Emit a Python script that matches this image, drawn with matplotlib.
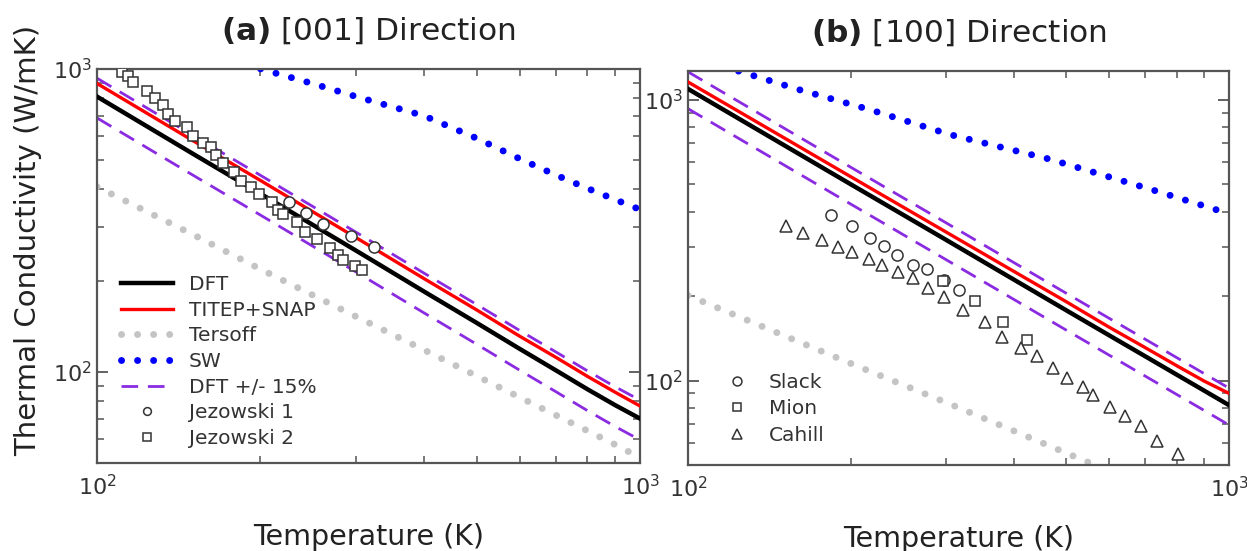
import numpy as np
import matplotlib
matplotlib.use('Agg')
import matplotlib.pyplot as plt
from matplotlib.ticker import LogLocator, NullFormatter

plt.rcParams['font.family'] = ['DejaVu Sans']
plt.rcParams['mathtext.fontset'] = 'dejavusans'

# ---- panel (a) [001] ----
T_a = [100, 150, 200, 300, 400, 500, 600, 700, 800, 900, 1000]
dft_a = [810, 525, 387, 251, 184, 145, 119, 101, 87.5, 77.5, 70]
titep_a = [895, 580, 428, 277, 203, 160, 131, 111.5, 96.5, 85.5, 77]
tersoff_a = [408, 284, 218, 152, 118, 96.8, 82.3, 71.8, 63.8, 57.4, 52]
T_sw_a = [200, 250, 300, 400, 500, 600, 700, 800, 900, 1000]
sw_a = [1000, 893, 810, 700, 590, 505, 446, 403, 370, 343]

jez1_T = [225.7, 242.6, 261.1, 293.7, 324.2]
jez1_k = [363, 334, 307, 280, 258]
jez2_T = [111.3, 113.9, 116.3, 123.5, 127.9, 132.5, 135.3, 139.2, 146.3, 150.4,
          156.5, 162.0, 165.7, 170.4, 179.0, 183.9, 192.1, 198.8, 209.8, 215.8,
          220.4, 233.2, 241.6, 253.9, 268.6, 278.2, 284.2, 298.6, 307.3]
jez2_k = [980, 948, 904, 846, 800, 760, 708, 673, 643, 601,
          569, 550, 520, 489, 458, 427, 407, 386, 363, 343,
          332, 311, 290, 274, 257, 243, 233, 224, 217]

# ---- panel (b) [100] ----
T_b = [100, 150, 200, 300, 400, 500, 600, 700, 800, 900, 1000]
dft_b = [1094, 692, 500, 317, 229, 178, 145, 122, 105, 92, 81.7]
titep_b = [1158, 735, 532, 338, 245, 191, 155, 131, 113, 99.5, 90]
T_ters_b = [100, 150, 200, 300, 400, 500, 600]
tersoff_b = [201, 145, 115, 83.5, 66.2, 55.2, 47.6]
T_sw_b = [124, 161, 217, 305, 467, 714, 1000]
sw_b = [1266, 1085, 922, 752, 614, 481, 393]

slack_T = [183.8, 200.6, 216.9, 230.6, 243.8, 260.2, 276.2, 297.7, 317.3]
slack_k = [390, 354, 322, 301, 281, 258, 249, 228, 210]
mion_T = [296.0, 339.3, 382.7, 423.8]
mion_k = [226, 192, 161, 139]
cahill_T = [151.8, 163.3, 176.6, 189.1, 201.2, 216.1, 228.7, 244.8, 260.2, 278.1,
            297.7, 322.8, 354.0, 380.2, 412.6, 442.3, 472.2, 502.4, 536.6, 559.8,
            602.6, 642.5, 687.6, 737.1, 803.9]
cahill_k = [355, 336, 316, 298, 286, 272, 258, 244, 231, 214,
            199, 179, 162, 143, 131, 122, 110.5, 102, 95, 88.8,
            80.8, 74.5, 68.6, 60.7, 54.9]

purple = '#8a2be2'
gray_dot = '#c4c4c4'
frame = '#555555'
dotstyle = (0, (0.01, 2.3))


def style_axes(ax, ylim):
    ax.set_xscale('log')
    ax.set_yscale('log')
    ax.set_xlim(100, 1000)
    ax.set_ylim(*ylim)
    ax.xaxis.set_major_locator(LogLocator(base=10, numticks=5))
    ax.xaxis.set_minor_locator(LogLocator(base=10, subs=np.arange(2, 10), numticks=10))
    ax.yaxis.set_minor_locator(LogLocator(base=10, subs=np.arange(2, 10), numticks=10))
    ax.xaxis.set_minor_formatter(NullFormatter())
    ax.yaxis.set_minor_formatter(NullFormatter())
    ax.tick_params(which='both', direction='in', top=True, right=True, colors=frame,
                   labelcolor='#333333', labelsize=16)
    ax.tick_params(which='major', length=8, width=1.3)
    ax.tick_params(which='minor', length=5, width=1.1)
    ax.tick_params(axis='x', pad=8)
    for s in ax.spines.values():
        s.set_color(frame)
        s.set_linewidth(1.6)


fig = plt.figure(figsize=(12.47, 5.51), dpi=100)
ax1 = fig.add_axes([0.0778, 0.160, 0.4355, 0.715])
ax2 = fig.add_axes([0.5517, 0.156, 0.4339, 0.715])

# (a)
ax1.plot(T_a, dft_a, color='black', lw=3.2, label='DFT', zorder=4)
ax1.plot(T_a, titep_a, color='red', lw=2.4, label='TITEP+SNAP', zorder=4)
ax1.plot(T_a, tersoff_a, color=gray_dot, lw=5, ls=dotstyle, dash_capstyle='round', label='Tersoff')
ax1.plot(T_sw_a, sw_a, color='#0000ff', lw=5, ls=dotstyle, dash_capstyle='round', label='SW')
ax1.plot(T_a, np.array(dft_a) * 1.15, color=purple, lw=2, ls=(0, (6, 3.5)), label='DFT +/- 15%')
ax1.plot(T_a, np.array(dft_a) * 0.85, color=purple, lw=2, ls=(0, (6, 3.5)))
ax1.plot(jez1_T, jez1_k, 'o', mfc='white', mec='#333333', ms=8, mew=1.1, label='Jezowski 1', zorder=5)
ax1.plot(jez2_T, jez2_k, 's', mfc='white', mec='#333333', ms=7.5, mew=1.1, label='Jezowski 2', zorder=5)
style_axes(ax1, (50, 1000))
leg = ax1.legend(loc='lower left', bbox_to_anchor=(0.01, -0.008), frameon=False, fontsize=14.5,
                 handlelength=2.6, labelspacing=0.33, markerscale=0.7)
for t in leg.get_texts():
    t.set_color('#333333')
ax1.set_title(r'$\mathbf{(a)}$ [001] Direction', fontsize=22.5, pad=21, color='#222222')
ax1.set_xlabel('Temperature (K)', fontsize=20.5, labelpad=17, color='#222222')
ax1.set_ylabel('Thermal Conductivity (W/mK)', fontsize=21, color='#222222')
ax1.yaxis.set_label_coords(-0.101, 0.565)

# (b)
ax2.plot(T_b, dft_b, color='black', lw=3.2, zorder=4)
ax2.plot(T_b, titep_b, color='red', lw=2.4, zorder=4)
ax2.plot(T_ters_b, tersoff_b, color=gray_dot, lw=5, ls=dotstyle, dash_capstyle='round')
ax2.plot(T_sw_b, sw_b, color='#0000ff', lw=5, ls=dotstyle, dash_capstyle='round')
ax2.plot(T_b, np.array(dft_b) * 1.15, color=purple, lw=2, ls=(0, (6, 3.5)))
ax2.plot(T_b, np.array(dft_b) * 0.85, color=purple, lw=2, ls=(0, (6, 3.5)))
ax2.plot(slack_T, slack_k, 'o', mfc='white', mec='#333333', ms=8, mew=1.1, label='Slack', zorder=5)
ax2.plot(mion_T, mion_k, 's', mfc='white', mec='#333333', ms=7.5, mew=1.1, label='Mion', zorder=5)
ax2.plot(cahill_T, cahill_k, '^', mfc='white', mec='#333333', ms=8.5, mew=1.1, label='Cahill', zorder=5)
style_axes(ax2, (50, 1266))
leg2 = ax2.legend(loc='lower left', bbox_to_anchor=(0.03, 0.005), frameon=False, fontsize=14.5,
                  handlelength=1.5, labelspacing=0.38, markerscale=0.8)
for t in leg2.get_texts():
    t.set_color('#333333')
ax2.set_title(r'$\mathbf{(b)}$ [100] Direction', fontsize=22.5, pad=21, color='#222222')
ax2.set_xlabel('Temperature (K)', fontsize=20.5, labelpad=17, color='#222222')

fig.savefig('out.png', dpi=100)
